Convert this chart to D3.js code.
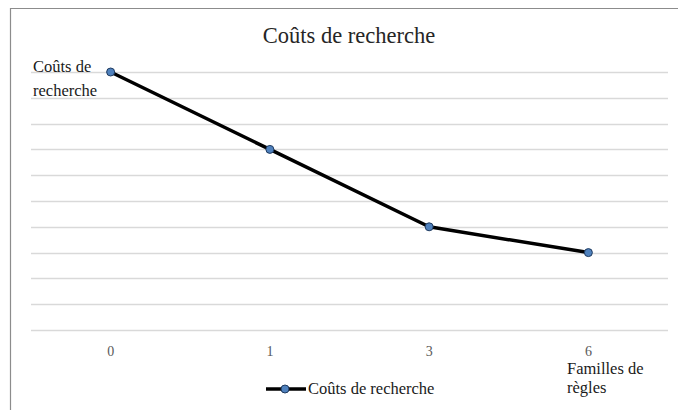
<!DOCTYPE html>
<html><head><meta charset="utf-8">
<script src="https://cdn.jsdelivr.net/npm/d3@7"></script>
<style>body{margin:0;background:#fff}svg{display:block}</style>
</head><body>
<script>
const categories = ["0", "1", "3", "6"];
const values = [10, 7, 4, 3];
const yTicks = [0,1,2,3,4,5,6,7,8,9,10];
const seriesName = "Coûts de recherche";
const title = "Coûts de recherche";
const yTitle = ["Coûts de", "recherche"];
const xTitle = ["Familles de", "règles"];

const W = 678, H = 410;
const svg = d3.select("body").append("svg").attr("width", W).attr("height", H);
const font = "'Liberation Serif', 'Times New Roman', serif";

// chart border
svg.append("path").attr("d", `M10.5,${H} V8.5 H${W}`).attr("fill","none").attr("stroke","#8c8c8c").attr("stroke-width",1.2);

const x = d3.scaleBand().domain(categories).range([31, 668]);
const y = d3.scaleLinear().domain([0, 10]).range([330, 72]);

// gridlines
svg.append("g").selectAll("line").data(yTicks).join("line")
  .attr("x1", 31).attr("x2", 668)
  .attr("y1", d => Math.round(y(d)) + 0.5).attr("y2", d => Math.round(y(d)) + 0.5)
  .attr("stroke", "#d9d9d9").attr("stroke-width", 1.3);

// x axis labels
const xAxis = d3.axisBottom(x).tickSize(0).tickPadding(0);
const gx = svg.append("g").attr("transform", "translate(0,346)").call(xAxis);
gx.select(".domain").remove();
gx.selectAll("text").attr("font-family", font).attr("font-size", 14).attr("fill", "#595959").attr("dy", "0.71em");

// title
svg.append("text").attr("x", 349).attr("y", 43).attr("text-anchor","middle")
  .attr("font-family", font).attr("font-size", 22.5).attr("fill", "#262626").text(title);

// y title
svg.append("text").attr("font-family", font).attr("font-size", 16.5).attr("fill","#1a1a1a")
  .selectAll("tspan").data(yTitle).join("tspan")
  .attr("x", 33).attr("y", (d,i) => 72 + i*24).text(d => d);

// x title
svg.append("text").attr("font-family", font).attr("font-size", 16.5).attr("fill","#1a1a1a")
  .selectAll("tspan").data(xTitle).join("tspan")
  .attr("x", 567).attr("y", (d,i) => 374 + i*19).text(d => d);

// line
const data = categories.map((c,i) => ({c, v: values[i]}));
const line = d3.line().x(d => x(d.c) + x.bandwidth()/2).y(d => y(d.v));
svg.append("path").datum(data).attr("d", line).attr("fill","none")
  .attr("stroke","#000").attr("stroke-width",3.5).attr("stroke-linejoin","round");
svg.append("g").selectAll("circle").data(data).join("circle")
  .attr("cx", d => x(d.c) + x.bandwidth()/2).attr("cy", d => y(d.v)).attr("r", 4)
  .attr("fill","#4f81bd").attr("stroke","#1f3a5f").attr("stroke-width",1);

// legend
const lg = svg.append("g");
lg.append("line").attr("x1",266).attr("x2",306).attr("y1",389).attr("y2",389).attr("stroke","#000").attr("stroke-width",3.5);
lg.append("circle").attr("cx",285).attr("cy",389).attr("r",4).attr("fill","#4f81bd").attr("stroke","#1f3a5f").attr("stroke-width",1);
lg.append("text").attr("x",308).attr("y",394).attr("font-family",font).attr("font-size",16.5).attr("fill","#1a1a1a").text(seriesName);
</script>
</body></html>
